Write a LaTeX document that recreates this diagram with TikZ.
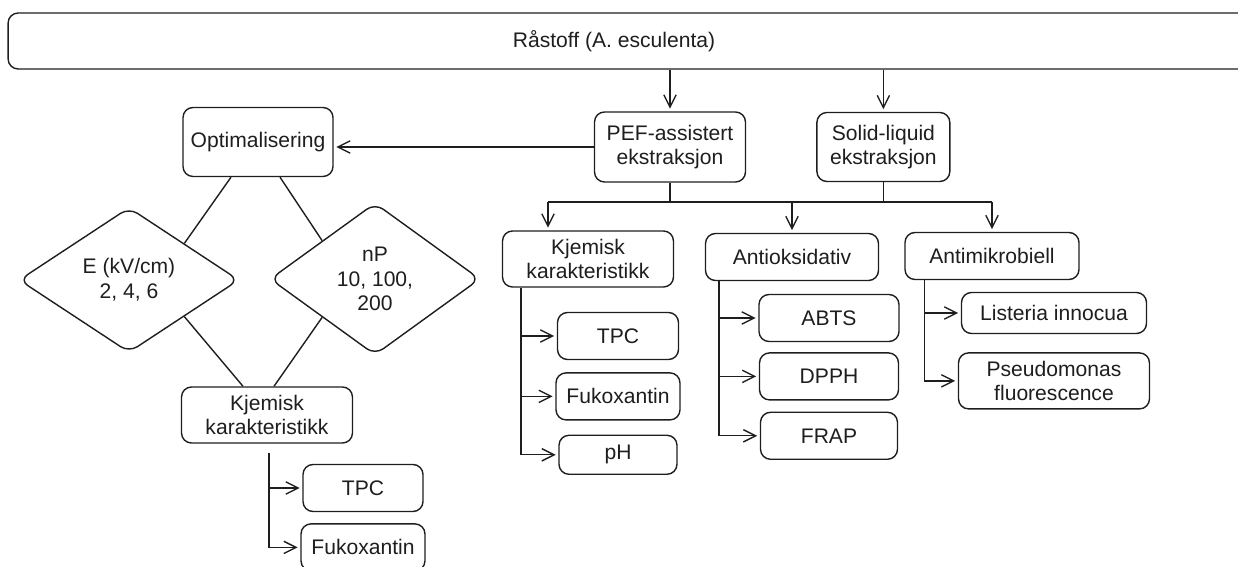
\documentclass[tikz,border=0pt]{standalone}
\usepackage{fontspec}
\setmainfont{Liberation Sans}
\usepackage{xcolor}
\usepackage{tikz}
\usetikzlibrary{shapes.geometric,arrows.meta,positioning,calc}

\definecolor{ink}{HTML}{1E1E1E}

\begin{document}
\begin{tikzpicture}[
        x=0.02cm, y=-0.02cm,
        font=\fontsize{12}{14}\selectfont,
        box/.style={rectangle, draw=ink, text=ink, rounded corners=0.2cm, line width=0.8pt, align=center, inner sep=1pt},
        leaf/.style={box, minimum height=0.94cm},
        choice/.style={diamond, draw=ink, text=ink, rounded corners=0.2cm, line width=0.8pt, align=center, inner sep=0pt},
        arrow/.style={-{Straight Barb[length=7pt,width=7pt]}, draw=ink, line width=0.8pt, shorten >=1.5pt},
        link/.style={draw=ink, line width=0.8pt}
    ]
        \clip (0,0) rectangle (1238,567);

        % Raw material
        \node[box, minimum width=25.24cm, minimum height=1.12cm,
              label={[xshift=-0.5cm, text=ink]center:Råstoff (A. esculenta)}] (raw) at (639,41) {};

        % Extraction
        \node[box, minimum width=3.02cm, minimum height=1.4cm] (pef) at (670,147) {PEF-assistert\\ekstraksjon};
        \node[box, minimum width=2.66cm, minimum height=1.38cm, right=1.4cm of pef] (sl) {Solid-liquid\\ekstraksjon};

        % Optimisation
        \node[box, minimum width=3cm, minimum height=1.38cm] (opt) at (258,142) {Optimalisering};
        \node[choice, minimum width=4.4cm, minimum height=2.9cm] (efield) at (129,280) {E (kV/cm)\\2, 4, 6};
        \node[choice, minimum width=4.2cm, minimum height=3.04cm] (npulse) at (375,279) {nP\\10, 100,\\200};
        \node[box, minimum width=3.42cm, minimum height=1.12cm] (kjem) at (267,415) {Kjemisk\\karakteristikk};
        \node[leaf, minimum width=2.4cm] (tpc1) at (363,488) {TPC};
        \node[leaf, minimum width=2.48cm, below=0.22cm of tpc1] (fuk1) {Fukoxantin};

        % Analyses
        \node[box, minimum width=3.42cm, minimum height=1.12cm] (kjem2) at (588,259) {Kjemisk\\karakteristikk};
        \node[leaf, minimum width=2.42cm] (tpc2) at (618,336) {TPC};
        \node[leaf, minimum width=2.48cm, below=0.24cm of tpc2] (fuk2) {Fukoxantin};
        \node[box, minimum width=2.36cm, minimum height=0.78cm, below=0.28cm of fuk2] (ph2) {pH};

        \node[leaf, minimum width=3.46cm] (antiox) at (792,257) {Antioksidativ};
        \node[leaf, minimum width=2.8cm] (abts) at (829,318) {ABTS};
        \node[leaf, minimum width=2.78cm, below=0.2cm of abts] (dpph) {DPPH};
        \node[leaf, minimum width=2.74cm, below=0.22cm of dpph] (frap) {FRAP};

        \node[leaf, minimum width=3.48cm] (antimik) at (992,256) {Antimikrobiell};
        \node[box, minimum width=3.7cm, minimum height=0.82cm] (list) at (1054,313) {Listeria innocua};
        \node[box, minimum width=3.82cm, minimum height=1.12cm, below=0.36cm of list] (pseu) {Pseudomonas\\fluorescence};

        % Connections
        \draw[arrow] (raw.south -| pef) -- (pef);
        \draw[arrow] (raw.south -| sl) -- (sl);
        \draw[arrow] (pef) -- (pef -| opt.east);

        \coordinate (bus) at (548,202);
        \draw[link] (pef) -- (pef |- bus);
        \draw[link] (sl) -- (sl |- bus);
        \draw[link] (bus) -- (bus -| antimik);
        \draw[arrow] (bus) -- (bus |- kjem2.north);
        \draw[arrow] (antiox |- bus) -- (antiox);
        \draw[arrow] (antimik |- bus) -- (antimik);

        \draw[link] ($(opt.south)+(-27,0)$) -- (efield.north east);
        \draw[link] ($(opt.south)+(22,0)$) -- (npulse.north west);
        \draw[link] (efield.south east) -- ($(kjem.north)+(-24,0)$);
        \draw[link] (npulse.south west) -- ($(kjem.north)+(7,0)$);

        \coordinate (k1) at ($(kjem.south)+(2,9)$);
        \draw[arrow] (k1) |- (tpc1);
        \draw[arrow] (k1) |- (fuk1);

        \coordinate (k2) at ($(kjem2.south west)+(19,0)$);
        \draw[arrow] (k2) |- (tpc2);
        \draw[arrow] (k2) |- (fuk2);
        \draw[arrow] (k2) |- (ph2);

        \coordinate (a2) at ($(antiox.south west)+(14,0)$);
        \draw[arrow] (a2) |- (abts);
        \draw[arrow] (a2) |- (dpph);
        \draw[arrow] (a2) |- (frap);

        \coordinate (m2) at ($(antimik.south west)+(20,0)$);
        \draw[arrow] (m2) |- (list);
        \draw[arrow] (m2) |- (pseu);

    \end{tikzpicture}
\end{document}
